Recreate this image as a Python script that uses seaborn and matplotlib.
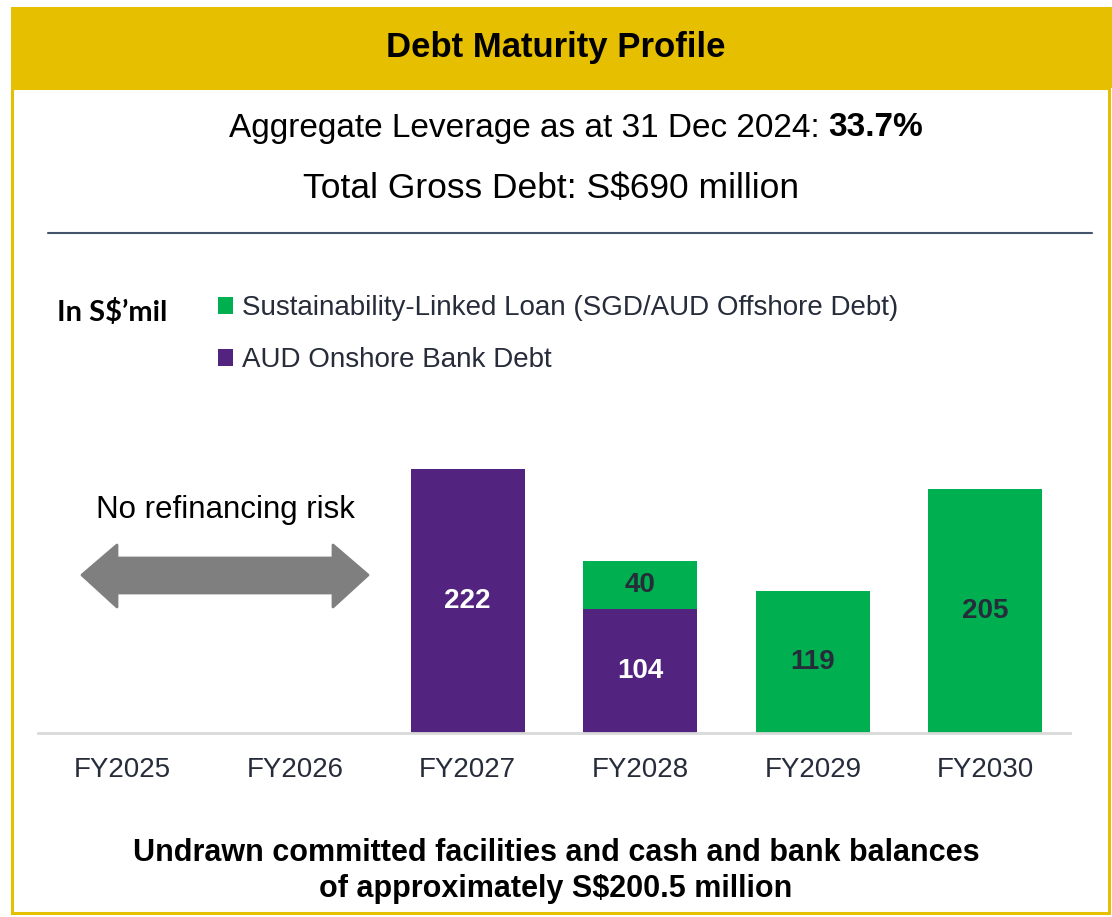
import matplotlib
matplotlib.use('Agg')
import matplotlib.pyplot as plt
import seaborn as sns
from matplotlib.patches import Rectangle, Polygon, Patch
from matplotlib.lines import Line2D

# Data (S$ million)
years = ['FY2025', 'FY2026', 'FY2027', 'FY2028', 'FY2029', 'FY2030']
aud_onshore = [0, 0, 222, 104, 0, 0]
slL_offshore = [0, 0, 0, 40, 119, 205]
series_names = ['Sustainability-Linked Loan (SGD/AUD Offshore Debt)', 'AUD Onshore Bank Debt']

GREEN = '#00B050'
PURPLE = '#52247F'
YELLOW = '#E6C000'
DARK = '#262C3A'

sns.set_theme(style='white')
plt.rcParams['font.family'] = ['Liberation Sans', 'DejaVu Sans']

W, H = 1112, 917
fig = plt.figure(figsize=(W / 100, H / 100), dpi=100)


def fx(px):
    return px / W


def fy(py):
    return 1 - py / H


# frame and header band (behind the axes)
fig.add_artist(Rectangle((fx(12), fy(913)), fx(1097), 825 / H, transform=fig.transFigure,
                         facecolor='white', edgecolor=YELLOW, linewidth=2.2, zorder=-2))
fig.add_artist(Rectangle((fx(11), fy(88)), fx(1101), 81 / H, transform=fig.transFigure,
                         facecolor=YELLOW, edgecolor='none', zorder=-1))

fig.text(0.5, fy(48), 'Debt Maturity Profile', ha='center', va='center',
         fontsize=25, fontweight='bold', color='black')

# headline: regular part + bold value, centred together
renderer = fig.canvas.get_renderer()
t1 = fig.text(0, fy(128), 'Aggregate Leverage as at 31 Dec 2024: ', ha='left',
              va='center', fontsize=24, color='black')
t2 = fig.text(0, fy(128), '33.7%', ha='left', va='center', fontsize=24,
              fontweight='bold', color='black')
w1 = t1.get_window_extent(renderer).width
w2 = t2.get_window_extent(renderer).width
x0 = 576 - (w1 + w2) / 2
t1.set_x(fx(x0))
t2.set_x(fx(x0 + w1))

fig.text(fx(551), fy(188), 'Total Gross Debt: S$690 million', ha='center', va='center',
         fontsize=25.5, color='black')
fig.add_artist(Line2D([fx(48), fx(1092)], [fy(233), fy(233)], transform=fig.transFigure,
                      color='#44546A', linewidth=1.5))

fig.text(fx(57), fy(313), 'In S$\u2019mil', ha='left', va='center', fontsize=21,
         fontweight='bold', family=['Lato', 'DejaVu Sans'], color='black')

# bars
ax = fig.add_axes([fx(38), fy(733), fx(1032), 293 / H])
ax.patch.set_alpha(0)
totals = [a + s for a, s in zip(aud_onshore, slL_offshore)]
sns.barplot(x=years, y=totals, color=GREEN, saturation=1, width=0.66, ax=ax,
            edgecolor='none')
sns.barplot(x=years, y=aud_onshore, color=PURPLE, saturation=1, width=0.66, ax=ax,
            edgecolor='none')
ax.set_xlim(-0.49, 5.49)
ax.set_ylim(0, 246)
ax.set_yticks([])
ax.set_xlabel('')
ax.set_ylabel('')
for s in ['left', 'right', 'top']:
    ax.spines[s].set_visible(False)
ax.spines['bottom'].set_color('#D9D9D9')
ax.spines['bottom'].set_linewidth(2)
ax.tick_params(axis='x', length=0, pad=17, labelsize=20, labelcolor=DARK)

for i, (a, s) in enumerate(zip(aud_onshore, slL_offshore)):
    if a:
        ax.text(i, a / 2, str(a), ha='center', va='center', fontsize=20,
                fontweight='bold', color='white')
    if s:
        ax.text(i, a + s / 2, str(s), ha='center', va='center', fontsize=20,
                fontweight='bold', color=DARK)

# legend
handles = [Patch(facecolor=GREEN, edgecolor='none'), Patch(facecolor=PURPLE, edgecolor='none')]
fig.legend(handles, series_names, loc='upper left', bbox_to_anchor=(fx(193), fy(270)),
           frameon=False, fontsize=20, handlelength=0.55, handleheight=0.55,
           handletextpad=0.3, labelspacing=0.95, labelcolor=DARK)

# no refinancing risk arrow
fig.text(fx(225), fy(510), 'No refinancing risk', ha='center', va='center',
         fontsize=22.5, color='black')
arrow = [(82, 575), (117, 545), (117, 558), (333, 558), (333, 545), (368, 575),
         (333, 607), (333, 593), (117, 593), (117, 607)]
fig.add_artist(Polygon([(fx(x), fy(y)) for x, y in arrow], closed=True,
                       transform=fig.transFigure, facecolor='#7F7F7F',
                       edgecolor='#7F7F7F', linewidth=2, joinstyle='round'))

# footer
fig.text(0.5, fy(853), 'Undrawn committed facilities and cash and bank balances',
         ha='center', va='center', fontsize=22, fontweight='bold', color='black')
fig.text(0.5, fy(889), 'of approximately S$200.5 million',
         ha='center', va='center', fontsize=22, fontweight='bold', color='black')

fig.savefig('out.png', dpi=100)
